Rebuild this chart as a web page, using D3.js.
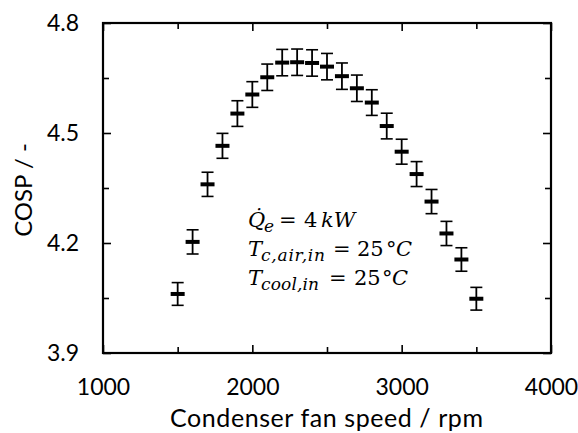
<!DOCTYPE html>
<html>
<head>
<meta charset="utf-8">
<script src="https://cdn.jsdelivr.net/npm/d3@7"></script>
<style>
  body { margin: 0; background: #fff; }
  svg { display: block; }
</style>
</head>
<body>
<div id="chart"></div>
<script>
// fan speed (rpm), measured COSP and error bar half-widths
const fanSpeed = [1500, 1600, 1700, 1800, 1900, 2000, 2100, 2200, 2300, 2400, 2500,
                  2600, 2700, 2800, 2900, 3000, 3100, 3200, 3300, 3400, 3500];
const cosp = [4.061, 4.203, 4.360, 4.465, 4.553, 4.605, 4.652, 4.692, 4.693, 4.691, 4.681,
              4.655, 4.622, 4.583, 4.519, 4.449, 4.388, 4.313, 4.226, 4.155, 4.048];
const cospErr = [0.031, 0.033, 0.033, 0.034, 0.035, 0.035, 0.036, 0.036, 0.036, 0.036, 0.036,
                 0.036, 0.036, 0.035, 0.035, 0.034, 0.034, 0.033, 0.033, 0.032, 0.031];

const xMajor = [1000, 2000, 3000, 4000];
const xMinor = [1500, 2500, 3500];
const yMajor = [3.9, 4.2, 4.5, 4.8];
const yMinor = [4.05, 4.35, 4.65];

const W = 578, H = 433;
const margin = { top: 23, right: 27, bottom: 80, left: 103 };
const width = W - margin.left - margin.right;
const height = H - margin.top - margin.bottom;

const svg = d3.select("#chart").append("svg")
    .attr("width", W)
    .attr("height", H);

const g = svg.append("g")
    .attr("transform", `translate(${margin.left},${margin.top})`);

const x = d3.scaleLinear().domain([1000, 4000]).range([0, width]);
const y = d3.scaleLinear().domain([3.9, 4.8]).range([height, 0]);

const labelFont = "Lato, 'Open Sans', sans-serif";

// axes: ticks point inwards on all four sides
function styleAxis(sel) {
    sel.select(".domain").remove();
    sel.selectAll("line").attr("stroke", "#000").attr("stroke-width", 1.6);
}

g.append("g").attr("transform", `translate(0,${height})`)
    .call(d3.axisBottom(x).tickValues(xMajor).tickSize(-8).tickFormat(d3.format("d")))
    .call(styleAxis)
    .call(s => s.selectAll("text").attr("y", 42).attr("dy", null)
        .style("font-family", labelFont).style("font-size", "23px").attr("fill", "#000"));
g.append("g").attr("transform", `translate(0,${height})`)
    .call(d3.axisBottom(x).tickValues(xMinor).tickSize(-6).tickFormat(""))
    .call(styleAxis);
g.append("g")
    .call(d3.axisTop(x).tickValues(xMajor).tickSize(-8).tickFormat(""))
    .call(styleAxis);
g.append("g")
    .call(d3.axisTop(x).tickValues(xMinor).tickSize(-6).tickFormat(""))
    .call(styleAxis);

g.append("g")
    .call(d3.axisLeft(y).tickValues(yMajor).tickSize(-8).tickPadding(24).tickFormat(d3.format(".1f")))
    .call(styleAxis)
    .call(s => s.selectAll("text").style("font-family", labelFont)
        .style("font-size", "23px").attr("fill", "#000"));
g.append("g")
    .call(d3.axisLeft(y).tickValues(yMinor).tickSize(-6).tickFormat(""))
    .call(styleAxis);
g.append("g").attr("transform", `translate(${width},0)`)
    .call(d3.axisRight(y).tickValues(yMajor).tickSize(-8).tickFormat(""))
    .call(styleAxis);
g.append("g").attr("transform", `translate(${width},0)`)
    .call(d3.axisRight(y).tickValues(yMinor).tickSize(-6).tickFormat(""))
    .call(styleAxis);

// frame
g.append("rect")
    .attr("width", width)
    .attr("height", height)
    .attr("fill", "none")
    .attr("stroke", "#000")
    .attr("stroke-width", 2.2);

// error bars with dash markers
const pts = fanSpeed.map((s, i) => ({ s, v: cosp[i], e: cospErr[i] }));
const cap = 6, dash = 7;

const bars = g.append("g").selectAll("g")
    .data(pts)
    .enter().append("g")
    .attr("stroke", "#000");

bars.append("line")
    .attr("x1", d => x(d.s)).attr("x2", d => x(d.s))
    .attr("y1", d => y(d.v - d.e)).attr("y2", d => y(d.v + d.e))
    .attr("stroke-width", 1.8);
bars.append("line")
    .attr("x1", d => x(d.s) - cap).attr("x2", d => x(d.s) + cap)
    .attr("y1", d => y(d.v + d.e)).attr("y2", d => y(d.v + d.e))
    .attr("stroke-width", 1.6);
bars.append("line")
    .attr("x1", d => x(d.s) - cap).attr("x2", d => x(d.s) + cap)
    .attr("y1", d => y(d.v - d.e)).attr("y2", d => y(d.v - d.e))
    .attr("stroke-width", 1.6);
bars.append("line")
    .attr("x1", d => x(d.s) - dash).attr("x2", d => x(d.s) + dash)
    .attr("y1", d => y(d.v)).attr("y2", d => y(d.v))
    .attr("stroke-width", 4);

// axis titles
svg.append("text")
    .attr("x", 170)
    .attr("y", 427)
    .attr("textLength", 313)
    .attr("lengthAdjust", "spacing")
    .style("font-family", labelFont)
    .style("font-size", "25px")
    .text("Condenser fan speed / rpm");

svg.append("text")
    .attr("transform", "rotate(-90)")
    .attr("x", -190)
    .attr("y", 32)
    .attr("text-anchor", "middle")
    .style("font-family", labelFont)
    .style("font-size", "24px")
    .text("COSP / -");

// operating conditions, placed piece by piece like the math typesetting
const mathFont = "'DejaVu Serif', 'Liberation Serif', serif";
const note = svg.append("g")
    .style("font-family", mathFont)
    .style("font-size", "21px");

function mathLine(yBase, parts) {
    const t = note.append("text").attr("y", yBase);
    parts.forEach(p => {
        const ts = t.append("tspan")
            .attr("x", p.x)
            .attr("y", yBase + (p.sub ? 5 : 0))
            .style("font-style", p.it ? "italic" : "normal")
            .style("font-size", p.sub ? "17px" : null)
            .text(p.t);
        if (p.len) ts.attr("textLength", p.len).attr("lengthAdjust", "spacing");
    });
}

mathLine(227, [
    { x: 248, t: "Q\u0307", it: true },
    { x: 264, t: "e", it: true, sub: true },
    { x: 279, t: "=" },
    { x: 304, t: "4" },
    { x: 321, t: "kW", it: true }
]);
mathLine(256, [
    { x: 248, t: "T", it: true },
    { x: 261, t: "c,air,in", it: true, sub: true, len: 64 },
    { x: 333, t: "=" },
    { x: 357, t: "25" },
    { x: 386, t: "°" },
    { x: 396, t: "C", it: true }
]);
mathLine(285, [
    { x: 248, t: "T", it: true },
    { x: 261, t: "cool,in", it: true, sub: true, len: 58 },
    { x: 329, t: "=" },
    { x: 354, t: "25" },
    { x: 382, t: "°" },
    { x: 392, t: "C", it: true }
]);
</script>
</body>
</html>
